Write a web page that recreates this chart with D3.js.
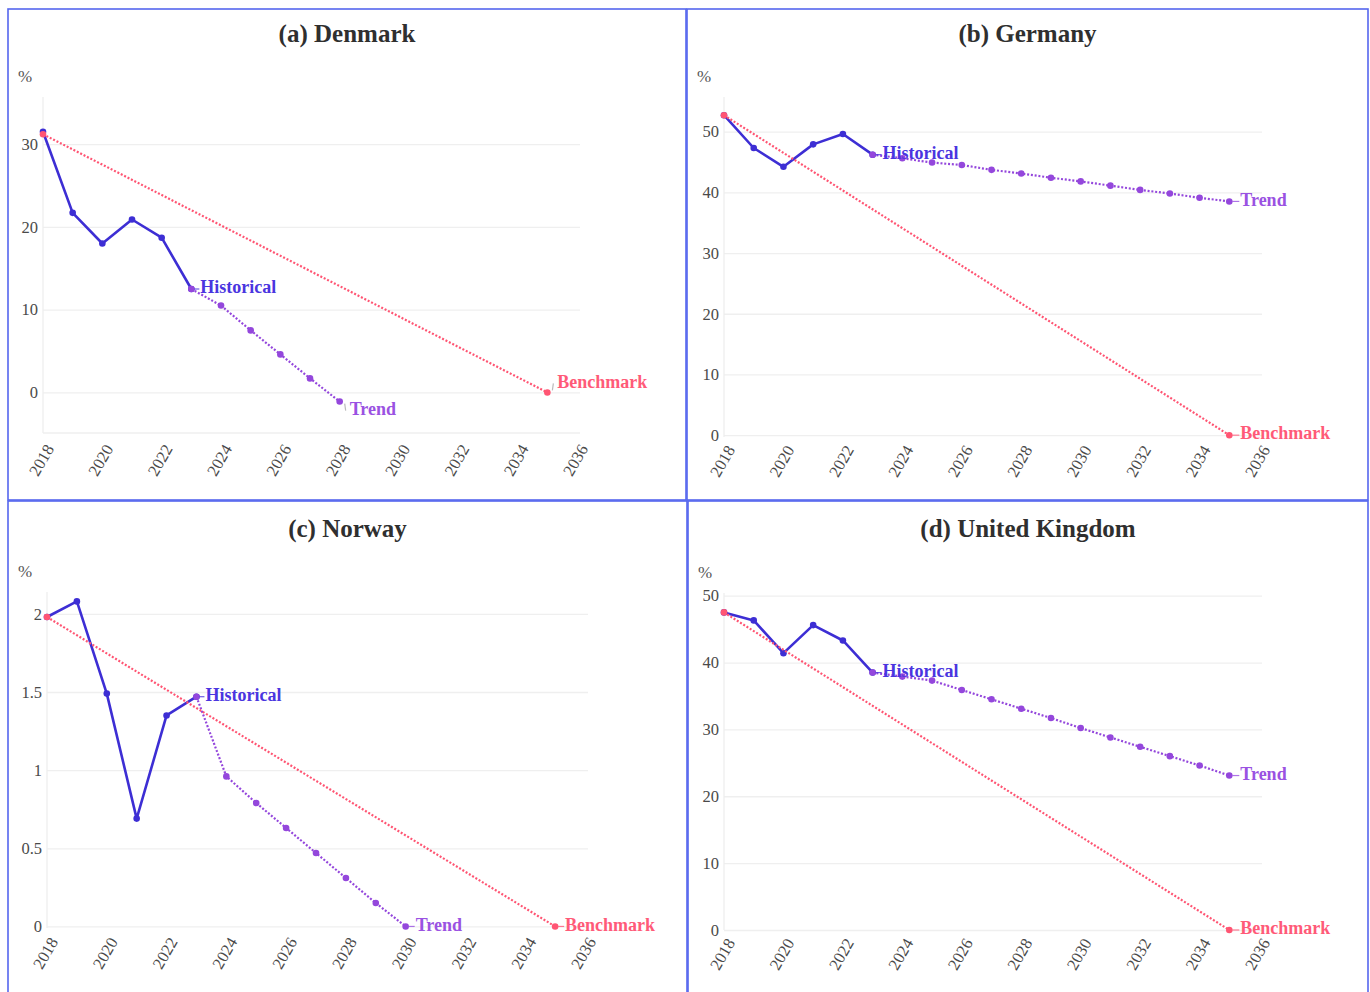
<!DOCTYPE html>
<html>
<head>
<meta charset="utf-8">
<script src="https://cdn.jsdelivr.net/npm/d3@7"></script>
<style>
  html, body { margin: 0; padding: 0; background: #fff; }
  svg { display: block; }
  .tick-label { font-family: "Liberation Serif", "DejaVu Serif", serif; font-size: 16.5px; fill: #4a4a4a; }
  .unit-label { font-family: "Liberation Serif", "DejaVu Serif", serif; font-size: 17px; fill: #555; }
  .title { font-family: "Liberation Serif", "DejaVu Serif", serif; font-size: 25px; font-weight: bold; fill: #2f2f2f; }
  .series-label { font-family: "Liberation Serif", "DejaVu Serif", serif; font-size: 18px; font-weight: bold; }
</style>
</head>
<body>
<svg id="chart" width="1370" height="992"></svg>
<script>
// ---- data ----
const xTicks = [2018, 2020, 2022, 2024, 2026, 2028, 2030, 2032, 2034, 2036];
const historicalYears = [2018, 2019, 2020, 2021, 2022, 2023];
const benchmarkYears = [2018, 2035];

// Denmark
const denmarkHistorical = [31.5, 21.7, 18.0, 20.9, 18.7, 12.5];
const denmarkTrendYears = [2023, 2024, 2025, 2026, 2027, 2028];
const denmarkTrend = [12.5, 10.5, 7.5, 4.6, 1.7, -1.1];
const denmarkBenchmark = [31.2, 0];
const denmarkYTicks = [0, 10, 20, 30];

// Germany
const germanyHistorical = [52.7, 47.3, 44.2, 47.9, 49.6, 46.2];
const germanyTrendYears = [2023, 2024, 2025, 2026, 2027, 2028, 2029, 2030, 2031, 2032, 2033, 2034, 2035];
const germanyTrend = [46.2, 45.6, 44.9, 44.5, 43.7, 43.1, 42.4, 41.8, 41.1, 40.4, 39.8, 39.1, 38.5];
const germanyBenchmark = [52.7, 0];
const germanyYTicks = [0, 10, 20, 30, 40, 50];

// Norway
const norwayHistorical = [1.98, 2.08, 1.49, 0.69, 1.35, 1.47];
const norwayTrendYears = [2023, 2024, 2025, 2026, 2027, 2028, 2029, 2030];
const norwayTrend = [1.47, 0.96, 0.79, 0.63, 0.47, 0.31, 0.15, 0.0];
const norwayBenchmark = [1.98, 0];
const norwayYTicks = [0, 0.5, 1, 1.5, 2];

// United Kingdom
const ukHistorical = [47.5, 46.3, 41.4, 45.6, 43.3, 38.5];
const ukTrendYears = [2023, 2024, 2025, 2026, 2027, 2028, 2029, 2030, 2031, 2032, 2033, 2034, 2035];
const ukTrend = [38.5, 37.9, 37.3, 35.9, 34.5, 33.1, 31.7, 30.2, 28.8, 27.4, 26.0, 24.6, 23.1];
const ukBenchmark = [47.5, 0];
const ukYTicks = [0, 10, 20, 30, 40, 50];

// ---- styles ----
const colors = {
  historical: "#3d2ed4",
  historicalText: "#4a35e0",
  trend: "#9447dc",
  trendText: "#9a52e2",
  benchmark: "#ff5573",
  benchmarkText: "#ff5a78",
  grid: "#efefef",
  frame: "#5566ee"
};

// ---- panel layout ----
const panels = [
  {
    title: "(a) Denmark",
    box: [8, 9, 678, 491],
    xRange: [43, 580], yRange: [433, 97], yDomain: [-4.9, 35.7],
    yTicks: denmarkYTicks, bottomLine: true,
    hist: denmarkHistorical, trendYears: denmarkTrendYears, trend: denmarkTrend, bench: denmarkBenchmark,
    labelOffsets: { historical: [9, 0], trend: [10, 9], benchmark: [10, -9] },
    leaderColor: "#bbbbbb", titleY: 42, tickOffset: 28
  },
  {
    title: "(b) Germany",
    box: [687, 9, 681, 491],
    xRange: [724, 1262], yRange: [437, 97], yDomain: [-0.3, 55.7],
    yTicks: germanyYTicks, bottomLine: false,
    hist: germanyHistorical, trendYears: germanyTrendYears, trend: germanyTrend, bench: germanyBenchmark,
    labelOffsets: { historical: [10, 0], trend: [11, 0], benchmark: [11, 0] },
    leaderColor: null, titleY: 42, tickOffset: 25
  },
  {
    title: "(c) Norway",
    box: [8, 501, 679, 495],
    xRange: [47, 588], yRange: [928, 592], yDomain: [-0.01, 2.14],
    yTicks: norwayYTicks, bottomLine: false,
    hist: norwayHistorical, trendYears: norwayTrendYears, trend: norwayTrend, bench: norwayBenchmark,
    labelOffsets: { historical: [9, 0], trend: [10, 0], benchmark: [10, 0] },
    leaderColor: null, titleY: 537, tickOffset: 26
  },
  {
    title: "(d) United Kingdom",
    box: [688, 501, 680, 495],
    xRange: [724, 1262], yRange: [930, 593], yDomain: [0, 50.4],
    yTicks: ukYTicks, bottomLine: false,
    hist: ukHistorical, trendYears: ukTrendYears, trend: ukTrend, bench: ukBenchmark,
    labelOffsets: { historical: [10, 0], trend: [11, 0], benchmark: [11, 0] },
    leaderColor: null, titleY: 537, tickOffset: 25
  }
];

const svg = d3.select("#chart");

panels.forEach(p => {
  const g = svg.append("g");
  const x = d3.scaleLinear().domain([2018, 2036.1]).range(p.xRange);
  const y = d3.scaleLinear().domain(p.yDomain).range(p.yRange);
  const [left, right] = p.xRange;
  const [bottom, top] = p.yRange;

  // frame
  g.append("rect")
    .attr("x", p.box[0]).attr("y", p.box[1])
    .attr("width", p.box[2]).attr("height", p.box[3])
    .attr("fill", "none").attr("stroke", colors.frame).attr("stroke-width", 1.6);

  // title
  g.append("text").attr("class", "title")
    .attr("x", p.box[0] + p.box[2] / 2).attr("y", p.titleY)
    .attr("text-anchor", "middle").text(p.title);

  // unit label
  g.append("text").attr("class", "unit-label")
    .attr("x", p.box[0] + 10).attr("y", top - 15)
    .text("%");

  // horizontal grid + y axis labels
  const yAxis = d3.axisLeft(y).tickValues(p.yTicks).tickSize(-(right - left)).tickPadding(5)
    .tickFormat(d3.format("~g"));
  const ya = g.append("g").attr("transform", `translate(${left},0)`).call(yAxis);
  ya.select(".domain").remove();
  ya.selectAll(".tick line").attr("stroke", colors.grid).attr("stroke-width", 1.3);
  ya.selectAll(".tick text").attr("class", "tick-label").attr("fill", null);

  // left vertical line and optional bottom line
  g.append("line").attr("x1", left).attr("x2", left).attr("y1", top).attr("y2", bottom)
    .attr("stroke", colors.grid).attr("stroke-width", 1.3);
  if (p.bottomLine) {
    g.append("line").attr("x1", left).attr("x2", right).attr("y1", bottom).attr("y2", bottom)
      .attr("stroke", colors.grid).attr("stroke-width", 1.3);
  }

  // x tick labels, rotated
  g.selectAll(".xlab").data(xTicks).enter().append("text")
    .attr("class", "tick-label")
    .attr("text-anchor", "middle")
    .attr("dominant-baseline", "middle")
    .attr("transform", d => `translate(${x(d)},${bottom + p.tickOffset}) rotate(-60)`)
    .text(d => d);

  const line = d3.line().x(d => x(d[0])).y(d => y(d[1]));

  const histPts = historicalYears.map((yr, i) => [yr, p.hist[i]]);
  const trendPts = p.trendYears.map((yr, i) => [yr, p.trend[i]]);
  const benchPts = benchmarkYears.map((yr, i) => [yr, p.bench[i]]);

  // historical (solid)
  g.append("path").datum(histPts).attr("d", line)
    .attr("fill", "none").attr("stroke", colors.historical).attr("stroke-width", 2.6)
    .attr("stroke-linejoin", "round");
  g.selectAll(".hpt").data(histPts).enter().append("circle")
    .attr("cx", d => x(d[0])).attr("cy", d => y(d[1])).attr("r", 3.3)
    .attr("fill", colors.historical);

  // trend (dotted)
  g.append("path").datum(trendPts).attr("d", line)
    .attr("fill", "none").attr("stroke", colors.trend).attr("stroke-width", 2.2)
    .attr("stroke-dasharray", "2,1.8");
  g.selectAll(".tpt").data(trendPts).enter().append("circle")
    .attr("cx", d => x(d[0])).attr("cy", d => y(d[1])).attr("r", 3.3)
    .attr("fill", colors.trend);

  // benchmark (dotted)
  g.append("path").datum(benchPts).attr("d", line)
    .attr("fill", "none").attr("stroke", colors.benchmark).attr("stroke-width", 2.2)
    .attr("stroke-dasharray", "2,1.8");
  g.selectAll(".bpt").data(benchPts).enter().append("circle")
    .attr("cx", d => x(d[0])).attr("cy", d => y(d[1])).attr("r", 3.3)
    .attr("fill", colors.benchmark);

  // series end labels with short leaders
  const labelSpecs = [
    { key: "historical", text: "Historical", pt: histPts[histPts.length - 1], color: colors.historicalText },
    { key: "trend", text: "Trend", pt: trendPts[trendPts.length - 1], color: colors.trendText },
    { key: "benchmark", text: "Benchmark", pt: benchPts[benchPts.length - 1], color: colors.benchmarkText }
  ];
  labelSpecs.forEach(s => {
    const [dx, dy] = p.labelOffsets[s.key];
    const px = x(s.pt[0]), py = y(s.pt[1]);
    const lx = px + dx, ly = py + dy;
    if (dy === 0) {
      g.append("line").attr("x1", px + 3).attr("x2", lx - 1).attr("y1", py).attr("y2", py)
        .attr("stroke", s.color).attr("stroke-width", 1.2).attr("opacity", 0.8);
    } else {
      g.append("line")
        .attr("x1", lx - 5).attr("y1", py + (dy > 0 ? 2 : -2))
        .attr("x2", lx - 4).attr("y2", ly)
        .attr("stroke", p.leaderColor || s.color).attr("stroke-width", 1.2);
    }
    g.append("text").attr("class", "series-label")
      .attr("x", lx).attr("y", ly).attr("dominant-baseline", "middle")
      .attr("fill", s.color).text(s.text);
  });
});
</script>
</body>
</html>
